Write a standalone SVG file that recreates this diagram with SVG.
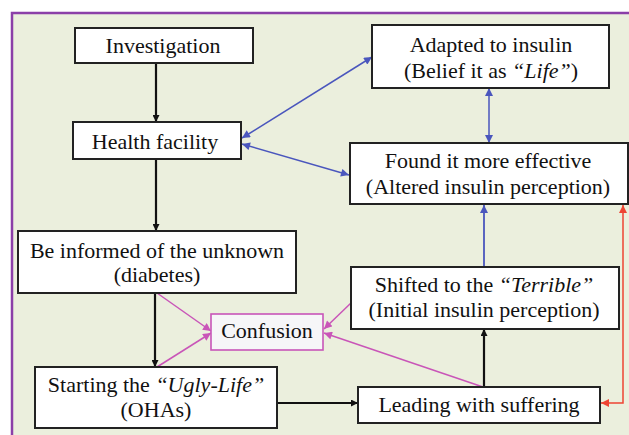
<svg xmlns="http://www.w3.org/2000/svg" width="629" height="435" viewBox="0 0 629 435">
<defs>
<marker id="ak" viewBox="0 0 10 10" refX="10" refY="5" markerWidth="9" markerHeight="7" markerUnits="userSpaceOnUse" orient="auto-start-reverse"><path d="M0,0 L10,5 L0,10 z" fill="#111"/></marker>
<marker id="ab" viewBox="0 0 10 10" refX="10" refY="5" markerWidth="9" markerHeight="8" markerUnits="userSpaceOnUse" orient="auto-start-reverse"><path d="M0,0 L10,5 L0,10 z" fill="#4a56bd"/></marker>
<marker id="ap" viewBox="0 0 10 10" refX="10" refY="5" markerWidth="9" markerHeight="8" markerUnits="userSpaceOnUse" orient="auto-start-reverse"><path d="M0,0 L10,5 L0,10 z" fill="#c955b8"/></marker>
<marker id="ar" viewBox="0 0 10 10" refX="10" refY="5" markerWidth="9" markerHeight="8" markerUnits="userSpaceOnUse" orient="auto-start-reverse"><path d="M0,0 L10,5 L0,10 z" fill="#ee4433"/></marker>
</defs>
<style>
text{font-size:22px;fill:#111;text-anchor:middle}
.box{fill:#fff;stroke:#222;stroke-width:2}
.cbox{fill:#f6f6f8;stroke:#c955b8;stroke-width:1.6}
.k{stroke:#111;stroke-width:2.2;fill:none;marker-end:url(#ak)}
.b{stroke:#4a56bd;stroke-width:1.5;fill:none;marker-end:url(#ab);marker-start:url(#ab)}
.bs{stroke:#4a56bd;stroke-width:1.8;fill:none;marker-end:url(#ab)}
.p{stroke:#c955b8;stroke-width:1.5;fill:none;marker-end:url(#ap)}
.r{stroke:#ee4433;stroke-width:1.5;fill:none;marker-end:url(#ar);marker-start:url(#ar)}
.i{font-style:italic}
</style>
<rect x="0" y="0" width="629" height="435" fill="#fff"/>
<rect x="12" y="13" width="620" height="425" fill="#ebefdd"/>
<path d="M12,437 V13 H631" fill="none" stroke="#8b3fa8" stroke-width="2.5"/>

<g id="connectors">
<line class="k" x1="156" y1="63" x2="156" y2="122"/>
<line class="k" x1="156" y1="159" x2="156" y2="231"/>
<line class="k" x1="155" y1="293" x2="155" y2="367"/>
<line class="k" x1="277" y1="403" x2="358" y2="403"/>
<line class="k" x1="484" y1="387" x2="484" y2="329"/>
<line class="p" x1="157" y1="293" x2="211" y2="331"/>
<line class="p" x1="157" y1="367" x2="211" y2="333"/>
<line class="p" x1="483" y1="387" x2="324" y2="333"/>
<line class="p" x1="352" y1="302" x2="324" y2="329"/>
<line class="bs" x1="484" y1="267" x2="484" y2="205"/>
<line class="b" x1="489" y1="88" x2="489" y2="143"/>
<line class="b" x1="242" y1="138" x2="372" y2="57"/>
<line class="b" x1="242" y1="144" x2="349" y2="175"/>
<path class="r" d="M623,205 V403 H601"/>
</g>

<g font-family="'Liberation Serif', 'DejaVu Serif', serif">
<g id="investigation"><rect class="box" x="75" y="28" width="178" height="35"/><text x="163" y="53">Investigation</text></g>
<g id="health-facility"><rect class="box" x="73" y="122" width="168" height="37"/><text x="155" y="149">Health facility</text></g>
<g id="adapted"><rect class="box" x="372" y="25" width="237" height="63"/><text x="491" y="52">Adapted to insulin</text><text x="491" y="78">(Belief it as <tspan class="i">“Life”</tspan>)</text></g>
<g id="found"><rect class="box" x="350" y="143" width="278" height="61"/><text x="488" y="168">Found it more effective</text><text x="488" y="194">(Altered insulin perception)</text></g>
<g id="informed"><rect class="box" x="18" y="231" width="278" height="62"/><text x="157" y="258">Be informed of the unknown</text><text x="157" y="282">(diabetes)</text></g>
<g id="confusion"><rect class="cbox" x="211" y="314" width="112" height="36"/><text x="267" y="338">Confusion</text></g>
<g id="starting"><rect class="box" x="35" y="367" width="242" height="61"/><text x="156" y="392">Starting the <tspan class="i">“Ugly-Life”</tspan></text><text x="156" y="417">(OHAs)</text></g>
<g id="shifted"><rect class="box" x="351" y="267" width="268" height="62"/><text x="484" y="292">Shifted to the <tspan class="i">“Terrible”</tspan></text><text x="484" y="317">(Initial insulin perception)</text></g>
<g id="leading"><rect class="box" x="358" y="387" width="242" height="36"/><text x="479" y="412">Leading with suffering</text></g>
</g>
</svg>
